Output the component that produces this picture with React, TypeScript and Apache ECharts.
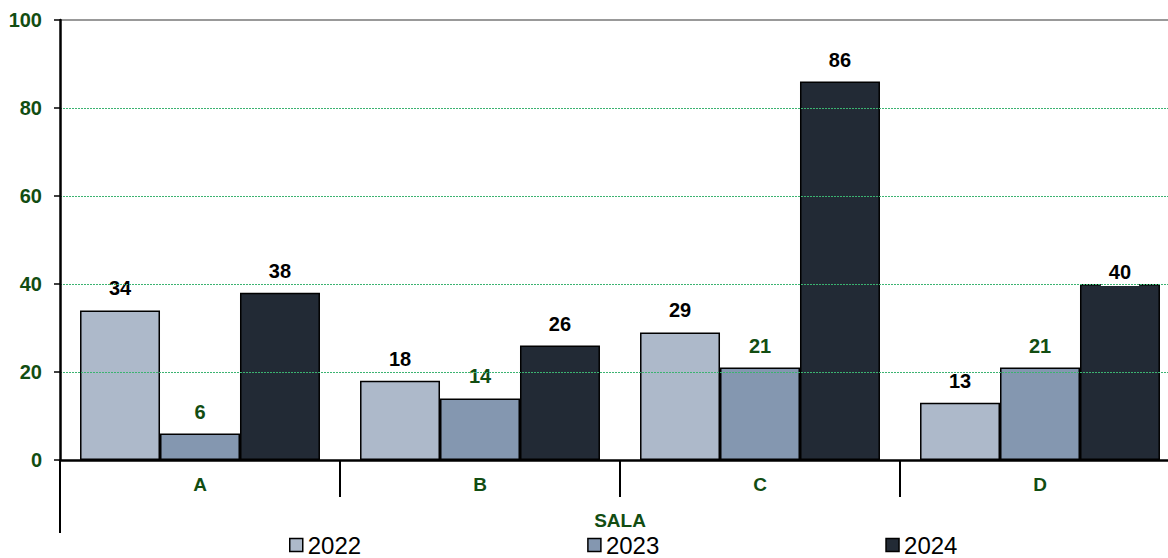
import React, { useEffect, useRef } from "react";
import * as echarts from "echarts";

const categories = ["A", "B", "C", "D"];
const seriesNames = ["2022", "2023", "2024"];
const values2022 = [34, 18, 29, 13];
const values2023 = [6, 14, 21, 21];
const values2024 = [38, 26, 86, 40];
const yTicks = [0, 20, 40, 60, 80, 100];

const FONT = "'Liberation Sans', Arial, Helvetica, sans-serif";
const GREEN = "#124d12";
const colors = ["#adb9ca", "#8497b0", "#222a35"];
const labelColors = ["#000000", GREEN, "#000000"];

export default function App() {
  const ref = useRef<HTMLDivElement>(null);
  useEffect(() => {
    document.body.style.margin = "0";
    const chart = echarts.init(ref.current!, null, { renderer: "svg" });
    const all = [values2022, values2023, values2024];
    const series: any[] = all.map((vals, si) => {
      const withBg = si === 2;
      return {
        name: seriesNames[si],
        type: "bar",
        barGap: "0%",
        barCategoryGap: "14.3%",
        itemStyle: { color: colors[si], borderColor: "#000", borderWidth: 1.5 },
        label: {
          show: true,
          position: "top",
          distance: withBg ? 8 : 12,
          color: labelColors[si],
          fontFamily: FONT,
          fontWeight: "bold",
          fontSize: 20,
          lineHeight: 20,
          backgroundColor: withBg ? "#ffffff" : "transparent",
          padding: withBg ? [4, 8] : 0,
        },
        data: vals.map((v, i) =>
          si === 2 && i === 3 ? { value: v, label: { offset: [0, 10] } } : v
        ),
        markLine:
          si === 0
            ? {
                silent: true,
                symbol: "none",
                label: { show: false },
                lineStyle: { color: "#999999", width: 2, type: "solid" },
                data: [{ yAxis: yTicks[yTicks.length - 1] }],
              }
            : undefined,
        z: 3,
      };
    });
    chart.setOption({
      animation: false,
      grid: { left: 60, right: 0, top: 20, bottom: 98, containLabel: false },
      legend: {
        data: seriesNames,
        left: 289,
        top: 533,
        padding: 0,
        itemWidth: 13,
        itemHeight: 13,
        itemGap: 226,
        icon: "rect",
        textStyle: { fontFamily: FONT, fontSize: 24, lineHeight: 22, color: "#000" },
        itemStyle: { borderColor: "#000", borderWidth: 1.5 },
      },
      xAxis: {
        type: "category",
        data: categories,
        name: "SALA",
        nameLocation: "middle",
        nameGap: 51,
        nameTextStyle: { fontFamily: FONT, fontWeight: "bold", fontSize: 19, color: GREEN },
        axisLine: { show: true, lineStyle: { color: "#000", width: 2.5 } },
        axisTick: { show: true, length: 37, lineStyle: { color: "#000", width: 2 } },
        axisLabel: { fontFamily: FONT, fontWeight: "bold", fontSize: 19, color: GREEN, margin: 15 },
        z: 5,
      },
      yAxis: {
        type: "value",
        min: yTicks[0],
        max: yTicks[yTicks.length - 1],
        interval: 20,
        axisLine: { show: true, lineStyle: { color: "#000", width: 2.5 } },
        axisTick: { show: true, length: 6, lineStyle: { color: "#000", width: 1.5 } },
        axisLabel: { fontFamily: FONT, fontWeight: "bold", fontSize: 20, color: GREEN, margin: 18 },
        splitLine: { show: true, lineStyle: { color: "#3cb371", width: 1, type: [2, 1] } },
        z: 5,
      },
      graphic: [
        {
          type: "line",
          shape: { x1: 60, y1: 460, x2: 60, y2: 533 },
          style: { stroke: "#000", lineWidth: 2 },
          z: 10,
        },
      ],
      series,
    });
    return () => chart.dispose();
  }, []);
  return (
    <div style={{ width: 1168, height: 558, overflow: "hidden", position: "relative" }}>
      <div ref={ref} style={{ width: 1180, height: 558 }} />
    </div>
  );
}
